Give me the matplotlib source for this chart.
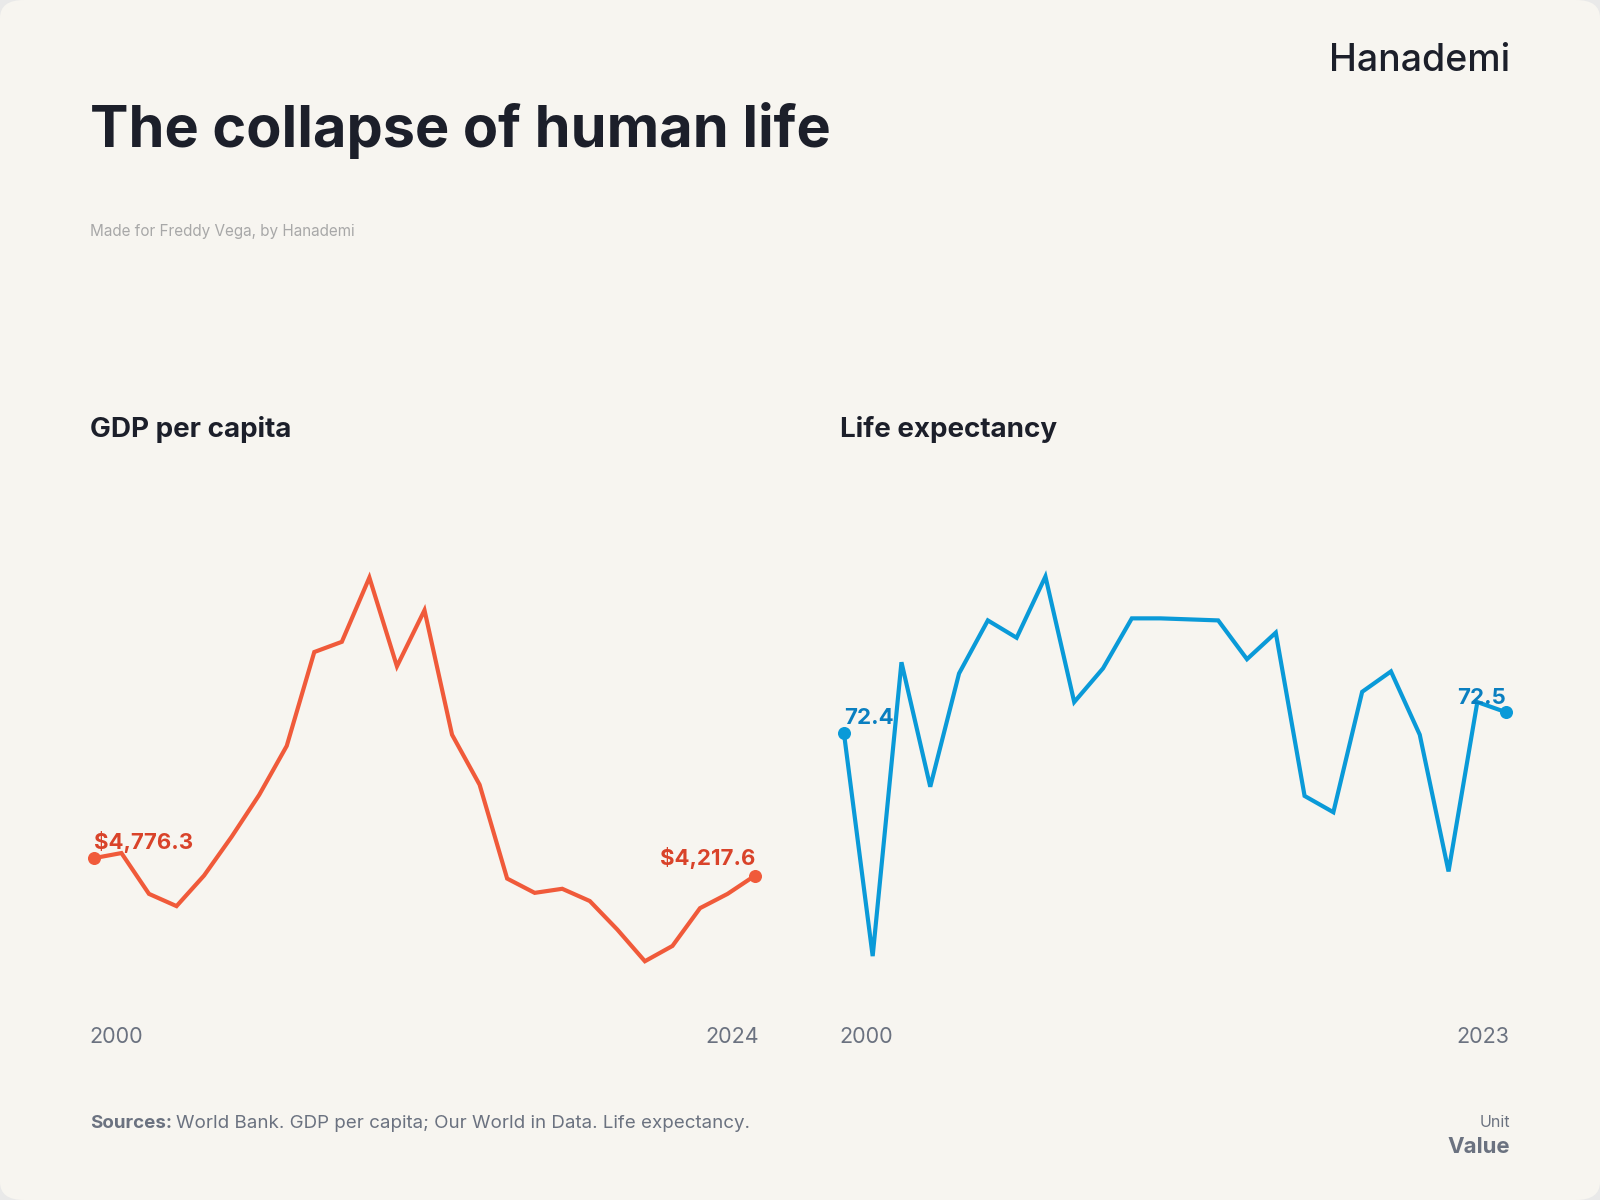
import matplotlib
matplotlib.use("Agg")
import matplotlib.pyplot as plt
from matplotlib.patches import FancyBboxPatch

gdp_years = list(range(2000, 2025))
gdp_values = [4776.3, 4940.6, 3626.2, 3232.0, 4217.7, 5466.4, 6813.6, 8391.0, 11414.0, 11743.0,
              13813.0, 10954.0, 12761.0, 8752.0, 7142.0, 4119.0, 3659.0, 3790.0, 3396.0, 2476.0,
              1457.0, 1950.0, 3166.0, 3626.0, 4217.6]
life_years = list(range(2000, 2024))
life_values = [72.4, 71.305, 72.745, 72.135, 72.69, 72.95, 72.865, 73.165, 72.55, 72.715,
               72.96, 72.96, 72.955, 72.95, 72.76, 72.89, 72.09, 72.01, 72.6, 72.7,
               72.39, 71.72, 72.55, 72.5]

FONT = ["Inter", "DejaVu Sans"]
plt.rcParams["font.family"] = FONT
dark = "#1c1f2a"
grey = "#6b7280"

W, H = 1568, 1176
fig = plt.figure(figsize=(16, 12), dpi=100)
fig.patch.set_facecolor("#e9e9e9")
fig.patches.append(FancyBboxPatch((0.0, 0.0), 1.0, 1.0, boxstyle="round,pad=0,rounding_size=0.015",
                                  transform=fig.transFigure, facecolor="#f7f5f0", edgecolor="none", zorder=-5))

def px(x, y):
    return x / W, 1 - y / H

fig.text(*px(88, 128), "The collapse of human life", fontsize=41.5, fontweight="bold", color=dark, va="center")
fig.text(*px(88, 227), "Made for Freddy Vega, by Hanademi", fontsize=11, color="#a8a8a8", va="center")
fig.text(*px(1480, 60), "Hanademi", fontsize=27, fontweight="medium", color=dark, ha="right", va="center")
fig.text(*px(88, 421), "GDP per capita", fontsize=20, fontweight="bold", color=dark, va="center")
fig.text(*px(823, 421), "Life expectancy", fontsize=20, fontweight="bold", color=dark, va="center")
fig.text(*px(88, 1101), "Sources:", fontsize=13.5, fontweight="bold", color=grey, va="center")
fig.text(*px(172, 1101), "World Bank. GDP per capita; Our World in Data. Life expectancy.", fontsize=13.5, color=grey, va="center")
fig.text(*px(1480, 1100), "Unit", fontsize=11.5, color=grey, ha="right", va="center")
fig.text(*px(1480, 1124), "Value", fontsize=16, fontweight="bold", color=grey, ha="right", va="center")

orange, orange_t = "#f05a3a", "#d9432a"
blue, blue_t = "#0a9ad8", "#0a7fc0"

ax1 = fig.add_axes([92/W, 1-960/H, (740-92)/W, 420/H])
ax2 = fig.add_axes([827/W, 1-960/H, (1476-827)/W, 420/H])
for ax in (ax1, ax2):
    ax.set_facecolor("none")
    ax.axis("off")

ax1.plot(gdp_years, gdp_values, color=orange, lw=3, solid_joinstyle="miter", clip_on=False)
ax1.scatter([gdp_years[0], gdp_years[-1]], [gdp_values[0], gdp_values[-1]], color=orange, s=70, zorder=3, clip_on=False)
ax1.set_xlim(gdp_years[0], gdp_years[-1])
ax1.set_ylim(866, 14667)
ax1.annotate(f"${gdp_values[0]:,.1f}", (gdp_years[0], gdp_values[0]), xytext=(0, 4), textcoords="offset points",
             color=orange_t, fontsize=16, fontweight="bold", va="bottom", ha="left")
ax1.annotate(f"${gdp_values[-1]:,.1f}", (gdp_years[-1], gdp_values[-1]), xytext=(0, 5), textcoords="offset points",
             color=orange_t, fontsize=16, fontweight="bold", va="bottom", ha="right")

ax2.plot(life_years, life_values, color=blue, lw=3, solid_joinstyle="miter", clip_on=False)
ax2.scatter([life_years[0], life_years[-1]], [life_values[0], life_values[-1]], color=blue, s=70, zorder=3, clip_on=False)
ax2.set_xlim(life_years[0], life_years[-1])
ax2.set_ylim(71.19, 73.29)
ax2.annotate(f"{life_values[0]:.1f}", (life_years[0], life_values[0]), xytext=(0, 3), textcoords="offset points",
             color=blue_t, fontsize=16, fontweight="bold", va="bottom", ha="left")
ax2.annotate(f"{life_values[-1]:.1f}", (life_years[-1], life_values[-1]), xytext=(0, 3), textcoords="offset points",
             color=blue_t, fontsize=16, fontweight="bold", va="bottom", ha="right")

fig.text(*px(88, 1016), str(gdp_years[0]), fontsize=15.5, color=grey, va="center")
fig.text(*px(744, 1016), str(gdp_years[-1]), fontsize=15.5, color=grey, va="center", ha="right")
fig.text(*px(823, 1016), str(life_years[0]), fontsize=15.5, color=grey, va="center")
fig.text(*px(1479, 1016), str(life_years[-1]), fontsize=15.5, color=grey, va="center", ha="right")

fig.savefig("out.png", dpi=100, facecolor=fig.get_facecolor())
